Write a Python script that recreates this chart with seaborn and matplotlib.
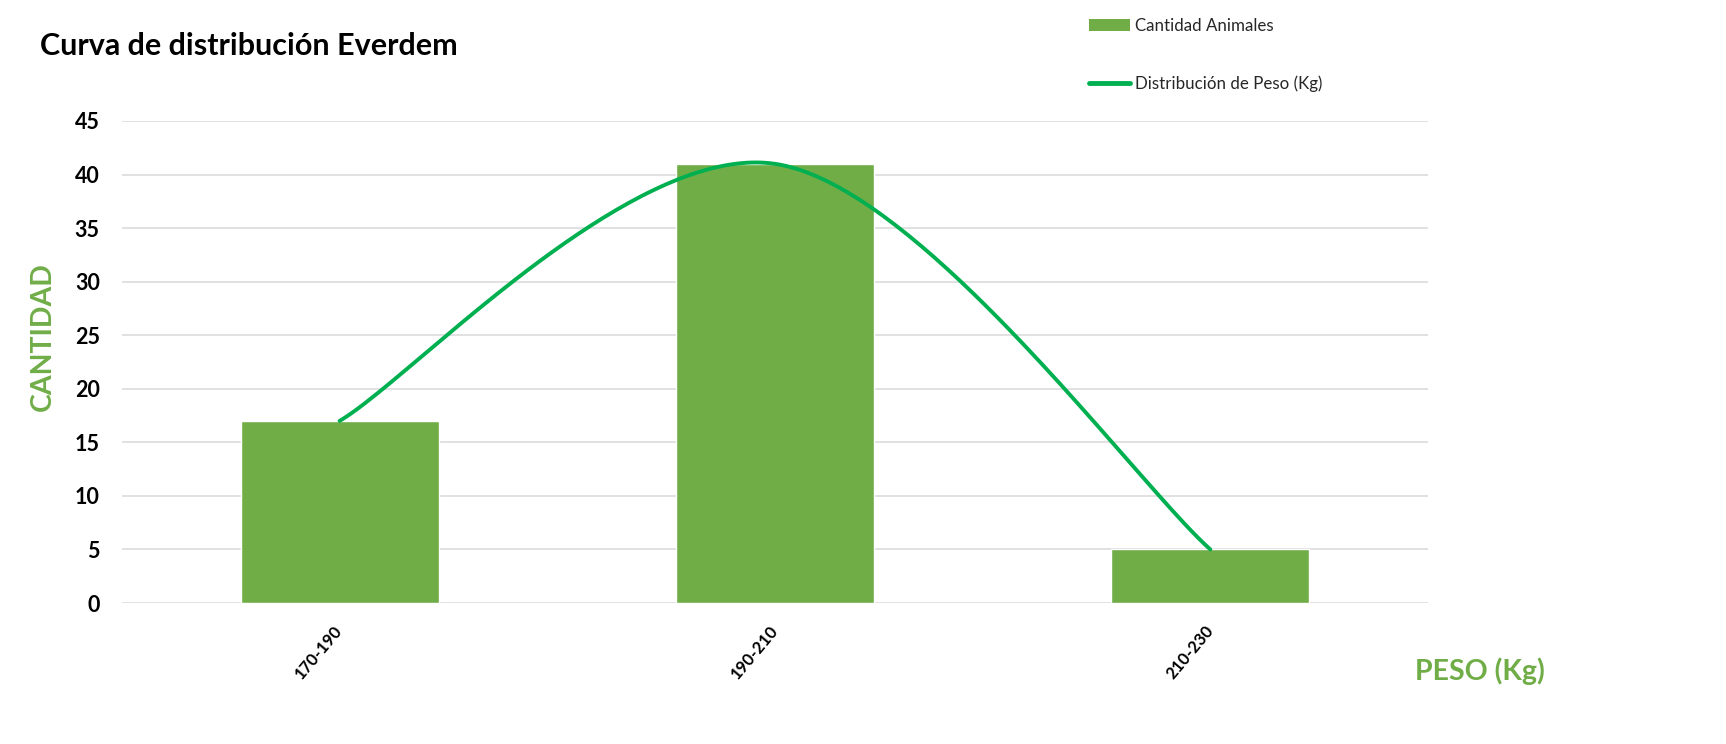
import numpy as np
import pandas as pd
import matplotlib
matplotlib.use("Agg")
import matplotlib.pyplot as plt
import seaborn as sns
from matplotlib.patches import Patch
from matplotlib.lines import Line2D

# ---- data ----
categories = ["170-190", "190-210", "210-230"]
cantidad = [17, 41, 5]
y_ticks = [0, 5, 10, 15, 20, 25, 30, 35, 40, 45]
title = "Curva de distribución Everdem"
bar_label = "Cantidad Animales"
line_label = "Distribución de Peso (Kg)"
y_label = "CANTIDAD"
x_label = "PESO (Kg)"

BAR_COLOR = "#70AD47"
LINE_COLOR = "#00B050"
GRID_COLOR = "#D9D9D9"

sns.set_theme(style="white")
plt.rcParams["font.family"] = ["Lato", "DejaVu Sans"]

W, H = 1726, 744
fig = plt.figure(figsize=(W / 100, H / 100), dpi=100)
ax = fig.add_axes([122 / W, 1 - 603 / H, (1428 - 122) / W, (603 - 121) / H])

df = pd.DataFrame({"rango": categories, "cantidad": cantidad})
sns.barplot(data=df, x="rango", y="cantidad", color=BAR_COLOR, saturation=1,
            width=0.455, ax=ax, zorder=2)


# smoothed line (Catmull-Rom style Bezier, as in spreadsheet "smoothed line")
def smooth_curve(xv, yv, n=80):
    P = np.column_stack([xv, yv]).astype(float)
    m = len(P)
    out = []
    for i in range(m - 1):
        p0 = P[i - 1] if i > 0 else P[i]
        p1 = P[i]
        p2 = P[i + 1]
        p3 = P[i + 2] if i + 2 < m else P[i + 1]
        b1 = p1 + (p2 - p0) / 6.0
        b2 = p2 - (p3 - p1) / 6.0
        t = np.linspace(0, 1, n)[:, None]
        seg = ((1 - t) ** 3) * p1 + 3 * ((1 - t) ** 2) * t * b1 + 3 * (1 - t) * t ** 2 * b2 + t ** 3 * p2
        out.append(seg if i == 0 else seg[1:])
    return np.vstack(out)


xpos = np.arange(len(categories))
curve = smooth_curve(xpos, cantidad)
ax.plot(curve[:, 0], curve[:, 1], color=LINE_COLOR, lw=2.8, zorder=3,
        solid_capstyle="round")

ax.set_xlim(-0.5, len(categories) - 0.5)
ax.set_ylim(0, 45)
ax.set_yticks(y_ticks)
ax.yaxis.grid(True, color=GRID_COLOR, lw=1.1, zorder=0)
ax.xaxis.grid(False)
ax.set_axisbelow(True)
for s in ax.spines.values():
    s.set_visible(False)
ax.set_xlabel("")
ax.set_ylabel("")
ax.tick_params(axis="both", length=0)
ax.tick_params(axis="y", pad=16, labelsize=15.5)
ax.tick_params(axis="x", pad=18, labelsize=12)
for lab in ax.get_yticklabels():
    lab.set_fontweight("bold")
    lab.set_color("black")
ax.set_xticks(xpos)
ax.set_xticklabels(categories, rotation=50, ha="right", va="center",
                   rotation_mode="anchor", fontweight="bold", color="black")

fig.text(40 / W, 1 - 55 / H, title, fontsize=22, fontweight="bold",
         color="black", ha="left", va="baseline")
fig.text(43 / W, 1 - 337 / H, y_label, fontsize=20.5, fontweight="bold",
         color=BAR_COLOR, rotation=90, ha="center", va="center")
fig.text(1415 / W, 1 - 680 / H, x_label, fontsize=20.5, fontweight="bold",
         color=BAR_COLOR, ha="left", va="baseline")

handles = [Patch(facecolor=BAR_COLOR, edgecolor="none", label=bar_label),
           Line2D([0], [0], color=LINE_COLOR, lw=3.5, label=line_label,
                  solid_capstyle="round")]
fig.legend(handles=handles, loc="upper left",
           bbox_to_anchor=(1089 / W, 1 - 18 / H), frameon=False,
           fontsize=12.2, handlelength=2.4, handletextpad=0.3,
           labelspacing=2.45, borderpad=0, borderaxespad=0)

fig.savefig("out.png", dpi=100)
